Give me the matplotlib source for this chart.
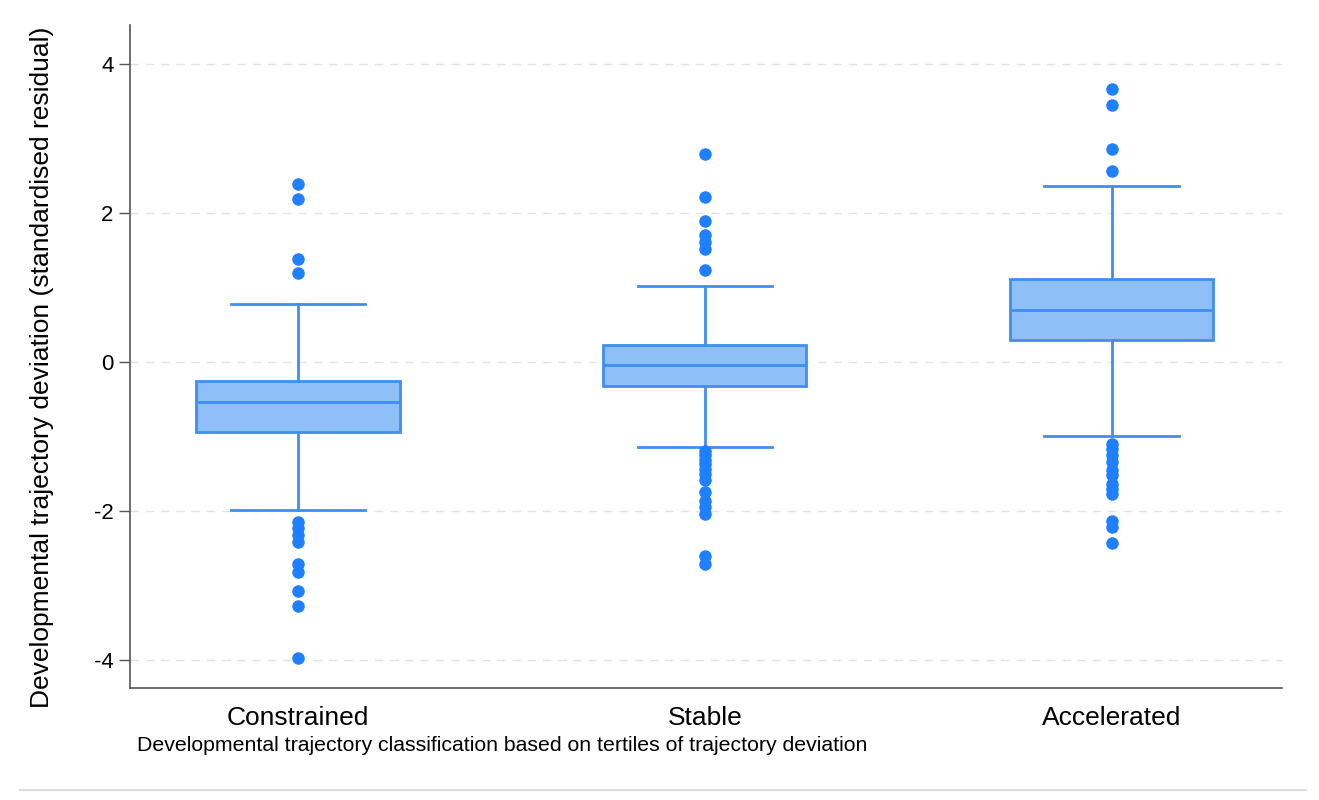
import matplotlib
matplotlib.use("Agg")
import matplotlib.pyplot as plt
from matplotlib.lines import Line2D

# === Daten ===
kategorien = ["Constrained", "Stable", "Accelerated"]
q1 = [-0.94, -0.32, 0.29]
median = [-0.53, -0.04, 0.70]
q3 = [-0.25, 0.23, 1.11]
whisker_low = [-1.99, -1.14, -0.99]
whisker_high = [0.78, 1.02, 2.36]
ausreisser = [
    [2.39, 2.19, 1.38, 1.19, -2.14, -2.23, -2.32, -2.41, -2.71, -2.82, -3.07, -3.27, -3.97],
    [2.79, 2.21, 1.89, 1.70, 1.61, 1.52, 1.23, -1.19, -1.25, -1.31, -1.37, -1.44, -1.50,
     -1.58, -1.74, -1.86, -1.95, -2.04, -2.60, -2.71],
    [3.66, 3.45, 2.86, 2.56, -1.10, -1.16, -1.25, -1.34, -1.45, -1.52, -1.63, -1.70, -1.77,
     -2.13, -2.21, -2.42],
]
y_ticks = [-4, -2, 0, 2, 4]

# === Farben ===
kante = "#3d8ff3"
fuellung = "#8fbff7"
punkte = "#1f80ff"

plt.rcParams['font.family'] = ['Liberation Sans', 'DejaVu Sans']

fig = plt.figure(figsize=(13.19, 8), dpi=100)
ax = fig.add_axes([0.0986, 0.14, 0.873, 0.829])

stats = []
for i, name in enumerate(kategorien):
    stats.append({
        "label": name,
        "q1": q1[i], "med": median[i], "q3": q3[i],
        "whislo": whisker_low[i], "whishi": whisker_high[i],
        "fliers": ausreisser[i],
    })

ax.bxp(
    stats, positions=[1, 2, 3], widths=0.5, patch_artist=True,
    capwidths=0.33,
    boxprops=dict(facecolor=fuellung, edgecolor=kante, linewidth=2),
    medianprops=dict(color=kante, linewidth=2),
    whiskerprops=dict(color=kante, linewidth=2),
    capprops=dict(color=kante, linewidth=2),
    flierprops=dict(marker='o', markerfacecolor=punkte, markeredgecolor=punkte,
                    markersize=8, linestyle='none'),
    zorder=3,
)

ax.set_xlim(0.587, 3.418)
ax.set_ylim(-4.37, 4.52)
ax.set_yticks(y_ticks)
ax.set_yticklabels([str(t) for t in y_ticks])
ax.yaxis.grid(True, linestyle=(0, (6, 5)), color='#e3e3e3', linewidth=1)
ax.set_axisbelow(True)

for s in ['top', 'right']:
    ax.spines[s].set_visible(False)
ax.spines['left'].set_color('#555555')
ax.spines['bottom'].set_color('#555555')
ax.spines['left'].set_linewidth(1.2)
ax.spines['bottom'].set_linewidth(1.2)

ax.tick_params(axis='y', length=8, width=1, color='#555555', labelsize=16, pad=4)
ax.tick_params(axis='x', length=0, labelsize=19, pad=13)

ax.set_ylabel("Developmental trajectory deviation (standardised residual)", fontsize=19)
ax.yaxis.set_label_coords(-0.066, 0.484)
fig.text(0.104, 0.068, "Developmental trajectory classification based on tertiles of trajectory deviation",
         fontsize=15.3, ha='left', va='center')

# Trennlinie unten
fig.add_artist(Line2D([0.015, 0.99], [0.013, 0.013], color='#dddddd', linewidth=1.5))

fig.savefig("out.png", dpi=100)
